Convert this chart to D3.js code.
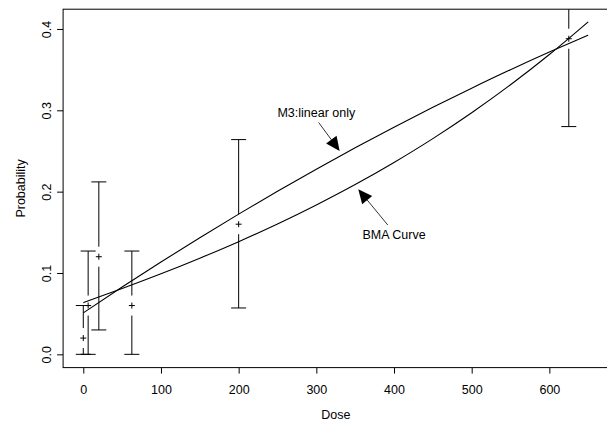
<!DOCTYPE html>
<html>
<head>
<meta charset="utf-8">
<script src="https://cdn.jsdelivr.net/npm/d3@7"></script>
<style>
  html, body { margin: 0; padding: 0; background: #fff; }
  #chart { width: 607px; height: 423px; }
  text { font-family: "Liberation Sans", Arial, Helvetica, sans-serif; fill: #000; }
</style>
</head>
<body>
<div id="chart"></div>
<script>
// observed data: dose groups, observed probability and interval
const doses = [0, 6.25, 20, 62.5, 200, 625];
const obsProb = [0.02, 0.06, 0.12, 0.06, 0.16, 0.388];
const ciLower = [0, 0, 0.03, 0, 0.057, 0.28];
const ciUpper = [0.06, 0.127, 0.212, 0.127, 0.264, 0.5];

// fitted curves
const curveDose = [0, 50, 100, 150, 200, 250, 300, 350, 400, 450, 500, 550, 600, 650];
const m3Prob = [0.051, 0.0827, 0.1135, 0.1434, 0.1724, 0.2004, 0.2276, 0.2539, 0.2792, 0.3037, 0.3272, 0.3499, 0.3716, 0.3924];
const bmaProb = [0.0635, 0.0809, 0.099, 0.1182, 0.1385, 0.1602, 0.1836, 0.2087, 0.2359, 0.2652, 0.297, 0.3314, 0.3686, 0.4088];

// axes
const xTicks = [0, 100, 200, 300, 400, 500, 600];
const yTicks = [0, 0.1, 0.2, 0.3, 0.4];
const xTitle = "Dose";
const yTitle = "Probability";

// annotation labels: text, label pos, arrow tail, arrow tip (data units)
const annoText = ["M3:linear only", "BMA Curve"];
const annoLabel = [[300, 0.297], [400, 0.147]];
const annoTail = [[303, 0.285], [392, 0.159]];
const annoTip = [[330, 0.25], [354, 0.203]];

function drawChart() {
  const width = 607, height = 423;
  const svg = d3.select("#chart").append("svg")
    .attr("width", width)
    .attr("height", height);

  // R-style extended ranges
  const x = d3.scaleLinear().domain([-26, 676]).range([63.1, 608.4]);
  const y = d3.scaleLinear().domain([-0.0163, 0.4243]).range([367.6, 9.2]);

  const plot = svg.append("g");
  svg.append("clipPath").attr("id", "clip")
    .append("rect")
    .attr("x", x.range()[0]).attr("y", y.range()[1])
    .attr("width", x.range()[1] - x.range()[0])
    .attr("height", y.range()[0] - y.range()[1]);

  // x axis
  const gx = svg.append("g")
    .attr("transform", `translate(0,${y.range()[0]})`)
    .call(d3.axisBottom(x).tickValues(xTicks).tickSize(6).tickPadding(12).tickFormat(d3.format("d")));
  gx.select(".domain").remove();
  gx.selectAll("line").attr("stroke", "#000");
  gx.selectAll("text").attr("font-size", "12.5px").attr("fill", "#000");

  // y axis, labels rotated like base R
  const gy = svg.append("g")
    .attr("transform", `translate(${x.range()[0]},0)`)
    .call(d3.axisLeft(y).tickValues(yTicks).tickSize(6).tickFormat(d3.format(".1f")));
  gy.select(".domain").remove();
  gy.selectAll("line").attr("stroke", "#000");
  gy.selectAll("text")
    .attr("font-size", "12.5px")
    .attr("fill", "#000")
    .attr("text-anchor", "middle")
    .attr("dy", null)
    .attr("x", null)
    .attr("transform", "translate(-12.6,0) rotate(-90)");

  // box
  svg.append("rect")
    .attr("x", x.range()[0]).attr("y", y.range()[1])
    .attr("width", x.range()[1] - x.range()[0])
    .attr("height", y.range()[0] - y.range()[1])
    .attr("fill", "none")
    .attr("stroke", "#000")
    .attr("stroke-width", 1);

  // axis titles
  svg.append("text")
    .attr("x", (x.range()[0] + x.range()[1]) / 2)
    .attr("y", 419)
    .attr("text-anchor", "middle")
    .attr("font-size", "12.5px")
    .text(xTitle);

  svg.append("text")
    .attr("transform", `translate(25,${(y.range()[0] + y.range()[1]) / 2}) rotate(-90)`)
    .attr("text-anchor", "middle")
    .attr("font-size", "12.5px")
    .text(yTitle);

  const clipped = plot.attr("clip-path", "url(#clip)");

  // curves
  const line = d3.line()
    .x((d, i) => x(curveDose[i]))
    .y(d => y(d))
    .curve(d3.curveMonotoneX);

  [m3Prob, bmaProb].forEach(series => {
    clipped.append("path")
      .attr("d", line(series))
      .attr("fill", "none")
      .attr("stroke", "#000")
      .attr("stroke-width", 1.1);
  });

  // error bars with a gap around the point
  const gap = 10, cap = 7.5, plus = 3;
  doses.forEach((d, i) => {
    const cx = x(d), cy = y(obsProb[i]);
    const yLo = y(ciLower[i]), yHi = y(ciUpper[i]);
    const g = clipped.append("g").attr("stroke", "#000").attr("stroke-width", 1);

    if (cy - gap > yHi) g.append("line").attr("x1", cx).attr("x2", cx).attr("y1", yHi).attr("y2", cy - gap);
    if (cy + gap < yLo) g.append("line").attr("x1", cx).attr("x2", cx).attr("y1", cy + gap).attr("y2", yLo);

    g.append("line").attr("x1", cx - cap).attr("x2", cx + cap).attr("y1", yHi).attr("y2", yHi);
    g.append("line").attr("x1", cx - cap).attr("x2", cx + cap).attr("y1", yLo).attr("y2", yLo);

    // "+" marker
    g.append("line").attr("x1", cx - plus).attr("x2", cx + plus).attr("y1", cy).attr("y2", cy);
    g.append("line").attr("x1", cx).attr("x2", cx).attr("y1", cy - plus).attr("y2", cy + plus);
  });

  // annotations with filled arrows
  annoText.forEach((t, i) => {
    svg.append("text")
      .attr("x", x(annoLabel[i][0]))
      .attr("y", y(annoLabel[i][1]))
      .attr("dy", "0.36em")
      .attr("text-anchor", "middle")
      .attr("font-size", "12.5px")
      .text(t);

    const tx = x(annoTail[i][0]), ty = y(annoTail[i][1]);
    const hx = x(annoTip[i][0]), hy = y(annoTip[i][1]);
    const len = Math.hypot(hx - tx, hy - ty);
    const ux = (hx - tx) / len, uy = (hy - ty) / len;
    const headL = 14, headW = 6.5;
    const bx = hx - ux * headL, by = hy - uy * headL;

    svg.append("line")
      .attr("x1", tx).attr("y1", ty)
      .attr("x2", bx).attr("y2", by)
      .attr("stroke", "#000")
      .attr("stroke-width", 0.8);

    svg.append("path")
      .attr("d", `M${hx},${hy}L${bx - uy * headW},${by + ux * headW}L${bx + uy * headW},${by - ux * headW}Z`)
      .attr("fill", "#000");
  });
}

window.addEventListener("DOMContentLoaded", () => {
  drawChart();
});
</script>
</body>
</html>
